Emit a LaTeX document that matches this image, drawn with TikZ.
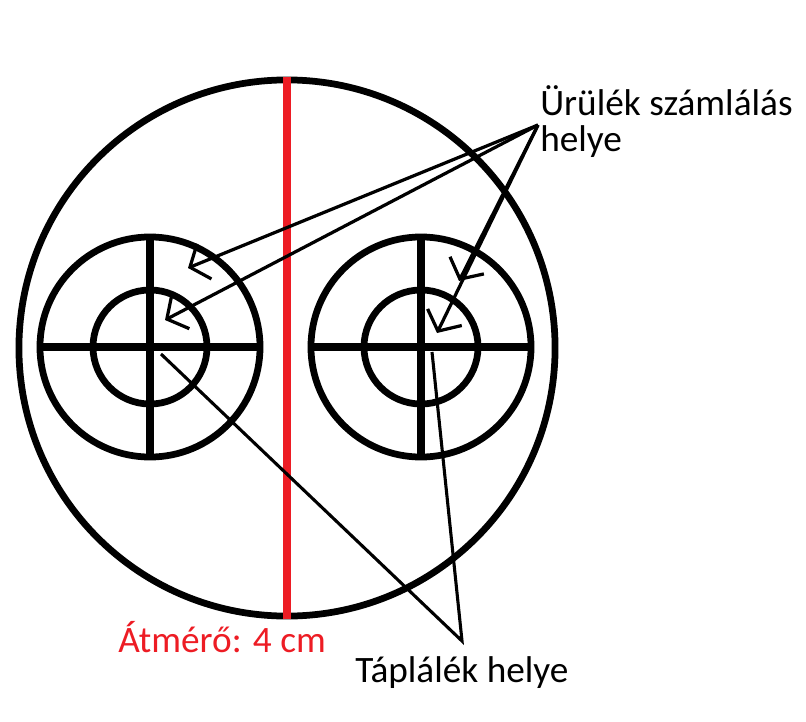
\documentclass[tikz,border=0pt]{standalone}
\usepackage{fontspec}
\setmainfont{Carlito}
\usetikzlibrary{arrows.meta}
\definecolor{paintred}{RGB}{237,28,36}
\tikzset{
  ring/.style={circle, draw, line width=4.8pt, inner sep=0pt},
  crossline/.style={line width=5pt},
  pointer/.style={line width=2.3pt, -{Straight Barb[length=11pt,width=27pt]}},
  feedline/.style={line width=2.2pt},
  txt/.style={font=\fontsize{26.5pt}{26.2pt}\selectfont, inner sep=0pt}
}
\begin{document}
\begin{tikzpicture}[x=0.025cm, y=-0.025cm]
        \useasboundingbox (0,0) rectangle (806,721);
        % dish
        \node[ring, minimum size=13.4cm] (dish) at (287,348) {};
        % diameter
        \draw[paintred, line width=5.5pt] (dish.north) -- (dish.south);
        \node[txt, anchor=base west, text=paintred] (diam) at (118,652) {Átmérő: 4 cm};
        % the two targets
        \foreach \n/\x in {l/150,r/421} {
          \node[ring, minimum size=5.5cm] (\n ring) at (\x,347) {};
          \node[ring, minimum size=2.85cm] (\n core) at (\n ring) {};
          \draw[crossline] (\n ring.west) -- (\n ring.east);
          \draw[crossline] (\n ring.north) -- (\n ring.south);
        }
        % counting spots
        \node[txt, anchor=base west, align=left] (count) at (540,152)
          {Ürülék számlálás\\helye};
        \coordinate (cfrom) at (538,125);
        \coordinate (lout) at (188,268);
        \coordinate (lin) at (165,320);
        \coordinate (rout) at (459,281);
        \coordinate (rin) at (437,333);
        \foreach \t in {lout,lin,rout,rin}
          \draw[pointer] (cfrom) -- (\t);
        % feeding spots
        \node[txt, anchor=base west] (feed) at (355,682) {Táplálék helye};
        \coordinate (ffrom) at (462,641);
        \coordinate (lfeed) at (161,354);
        \coordinate (rfeed) at (432,352);
        \draw[feedline] (lfeed) -- (ffrom) -- (rfeed);
\end{tikzpicture}
\end{document}
